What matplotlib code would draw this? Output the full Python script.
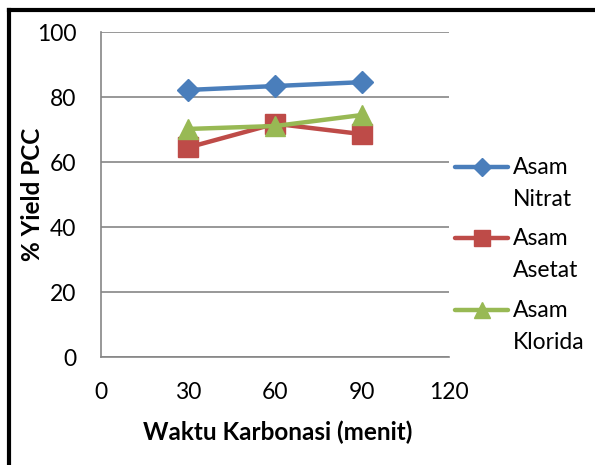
# -*- coding: utf-8 -*-
"""
Yield PCC terhadap waktu karbonasi untuk tiga jenis asam
"""

import matplotlib
matplotlib.use('Agg')
import matplotlib.pyplot as plt
from matplotlib.lines import Line2D

#%% Data
waktu = [30, 60, 90]  # menit
nitrat = [82.2, 83.4, 84.6]
asetat = [64.5, 71.8, 68.6]
klorida = [70.2, 71.1, 74.5]

series_labels = ['Asam\nNitrat', 'Asam\nAsetat', 'Asam\nKlorida']
x_ticks = [0, 30, 60, 90, 120]
y_ticks = [0, 20, 40, 60, 80, 100]

#%% Style
plt.rcParams['font.family'] = ['Lato', 'DejaVu Sans']
c_blue = '#4a7ebb'
c_red = '#be4b48'
c_green = '#98b954'
c_grid = '#868686'
colors = [c_blue, c_red, c_green]
markers = [('D', 11), ('s', 14), ('^', 15)]

W, H = 595, 465
fig = plt.figure(figsize=(W/100, H/100), dpi=100)
ax = fig.add_axes([0.170, 0.232, 0.585, 0.699])

for ys, col, (mk, ms), lab in zip([nitrat, asetat, klorida], colors, markers, series_labels):
    ax.plot(waktu, ys, color=col, lw=3.2, marker=mk, ms=ms, label=lab)

ax.set_xlim(0, 120)
ax.set_ylim(0, 100)
ax.set_xticks(x_ticks)
ax.set_yticks(y_ticks)
ax.tick_params(length=0, labelsize=16.5)
ax.tick_params(axis='x', pad=18)
ax.tick_params(axis='y', pad=18)

ax.yaxis.grid(True, color=c_grid, lw=1.2)
ax.set_axisbelow(True)
for side in ['top', 'right']:
    ax.spines[side].set_visible(False)
for side in ['left', 'bottom']:
    ax.spines[side].set_color(c_grid)
    ax.spines[side].set_linewidth(1.2)

# Axis titles placed in pixel coordinates
fig.text(278/W, 1 - 432/H, 'Waktu Karbonasi (menit)', fontsize=17.5,
         fontweight='bold', ha='center', va='center')
fig.text(33/W, 1 - 194/H, '% Yield PCC', fontsize=17.5, fontweight='bold',
         rotation=90, ha='center', va='center')

# Legend drawn by hand: marker sits on the first text line of each entry
legend_rows = [167, 238, 310]
for row, col, (mk, ms), lab in zip(legend_rows, colors, markers, series_labels):
    yf = 1 - row/H
    fig.add_artist(Line2D([455/W, 508/W], [yf, yf], transform=fig.transFigure,
                          color=col, lw=3.2, solid_capstyle='round'))
    fig.add_artist(Line2D([481.5/W], [yf], transform=fig.transFigure,
                          color=col, marker=mk, ms=ms*0.8, lw=0))
    fig.text(513/W, yf + 10/H, lab, fontsize=16.5, ha='left', va='top',
             linespacing=1.65)

# Outer chart frame (only the left and top edges fall inside the image)
fig.add_artist(Line2D([0.0155, 0.0155], [0.0, 0.979], transform=fig.transFigure,
                      color='black', lw=3))
fig.add_artist(Line2D([0.0155, 1.0], [0.979, 0.979], transform=fig.transFigure,
                      color='black', lw=3))

fig.savefig('out.png', dpi=100)
